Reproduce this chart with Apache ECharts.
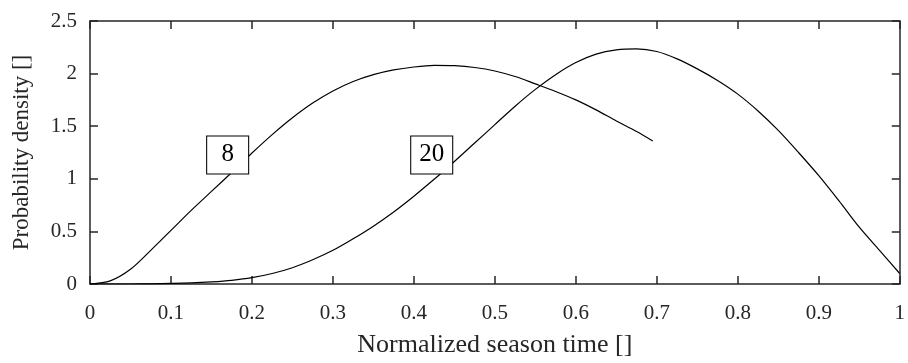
<!DOCTYPE html>
<html>
<head>
<meta charset="utf-8">
<script src="https://cdn.jsdelivr.net/npm/echarts@6/dist/echarts.min.js"></script>
<style>
  html, body { margin: 0; padding: 0; background: #fff; }
  #chart { width: 908px; height: 363px; }
</style>
</head>
<body>
<div id="chart"></div>
<script>
// curve "8" (ends at 0.695)
var x8 = [0, 0.025, 0.05, 0.075, 0.1, 0.125, 0.15, 0.175, 0.2, 0.225, 0.25, 0.275, 0.3, 0.325, 0.35,
  0.375, 0.4, 0.425, 0.45, 0.475, 0.5, 0.525, 0.55, 0.575, 0.6, 0.625, 0.65, 0.675, 0.695]
var y8 = [0, 0.03, 0.14, 0.32, 0.51, 0.7, 0.88, 1.06, 1.245, 1.42, 1.58, 1.72, 1.835, 1.925, 1.99,
  2.035, 2.063, 2.078, 2.075, 2.058, 2.025, 1.972, 1.902, 1.83, 1.75, 1.655, 1.55, 1.45, 1.36]
// curve "20"
var x20 = [0, 0.025, 0.05, 0.075, 0.1, 0.125, 0.15, 0.175, 0.2, 0.225, 0.25, 0.275, 0.3, 0.325, 0.35,
  0.375, 0.4, 0.425, 0.45, 0.475, 0.5, 0.525, 0.55, 0.575, 0.6, 0.625, 0.65, 0.675, 0.7,
  0.725, 0.75, 0.775, 0.8, 0.825, 0.85, 0.875, 0.9, 0.925, 0.95, 0.975, 1.0]
var y20 = [0, 0, 0, 0.002, 0.005, 0.01, 0.02, 0.035, 0.06, 0.1, 0.155, 0.23, 0.32, 0.43, 0.55,
  0.685, 0.835, 0.995, 1.165, 1.34, 1.515, 1.69, 1.85, 1.99, 2.105, 2.185, 2.225, 2.235, 2.21,
  2.14, 2.045, 1.935, 1.805, 1.645, 1.46, 1.25, 1.03, 0.79, 0.54, 0.32, 0.1]
// boxed curve labels
var labelText = ['8', '20']
var labelX = [0.17, 0.422]
var labelY = [1.227, 1.227]
// axes
var xTicks = [0, 0.1, 0.2, 0.3, 0.4, 0.5, 0.6, 0.7, 0.8, 0.9, 1]
var yTicks = [0, 0.5, 1, 1.5, 2, 2.5]

var font = 'Liberation Serif, Times New Roman, serif'
var axisColor = '#262626'

function pairs(xs, ys) {
  return xs.map(function (x, i) { return [x, ys[i]] })
}

var chart = echarts.init(document.getElementById('chart'))

var xBase = {
  type: 'value',
  min: xTicks[0],
  max: xTicks[xTicks.length - 1],
  interval: 0.1,
  axisLine: { show: true, onZero: false, lineStyle: { color: axisColor, width: 1.5 } },
  axisTick: { show: true, inside: true, length: 8, lineStyle: { color: axisColor, width: 1.5 } },
  splitLine: { show: false }
}
var yBase = {
  type: 'value',
  min: yTicks[0],
  max: yTicks[yTicks.length - 1],
  interval: 0.5,
  axisLine: { show: true, onZero: false, lineStyle: { color: axisColor, width: 1.5 } },
  axisTick: { show: true, inside: true, length: 8, lineStyle: { color: axisColor, width: 1.5 } },
  splitLine: { show: false }
}

chart.setOption({
  animation: false,
  textStyle: { fontFamily: font },
  grid: { left: 90, right: 1, top: 21, bottom: 75 },
  xAxis: [
    Object.assign({}, xBase, {
      position: 'bottom',
      name: 'Normalized season time []',
      nameLocation: 'middle',
      nameGap: 48,
      nameTextStyle: { fontFamily: font, fontSize: 26, color: axisColor },
      axisLabel: { fontFamily: font, fontSize: 21, color: axisColor, margin: 19 }
    }),
    Object.assign({}, xBase, { position: 'top', axisLabel: { show: false } })
  ],
  yAxis: [
    Object.assign({}, yBase, {
      position: 'left',
      name: 'Probability density []',
      nameLocation: 'middle',
      nameGap: 57,
      nameTextStyle: { fontFamily: font, fontSize: 23, color: axisColor },
      axisLabel: { fontFamily: font, fontSize: 21, color: axisColor, margin: 13 }
    }),
    Object.assign({}, yBase, { position: 'right', axisLabel: { show: false } })
  ],
  series: [
    {
      type: 'line',
      data: pairs(x8, y8),
      smooth: 0.3,
      showSymbol: false,
      lineStyle: { color: '#000', width: 1.2 },
      z: 2
    },
    {
      type: 'line',
      data: pairs(x20, y20),
      smooth: 0.3,
      showSymbol: false,
      lineStyle: { color: '#000', width: 1.2 },
      z: 2
    },
    {
      type: 'scatter',
      data: labelText.map(function (t, i) { return [labelX[i], labelY[i], t] }),
      symbol: 'rect',
      symbolSize: [42, 38],
      itemStyle: { color: '#fff', borderColor: '#000', borderWidth: 1, opacity: 1 },
      label: {
        show: true,
        position: 'inside',
        formatter: function (p) { return p.data[2] },
        fontFamily: font,
        fontSize: 25,
        color: '#000'
      },
      z: 5
    }
  ]
})
</script>
</body>
</html>
